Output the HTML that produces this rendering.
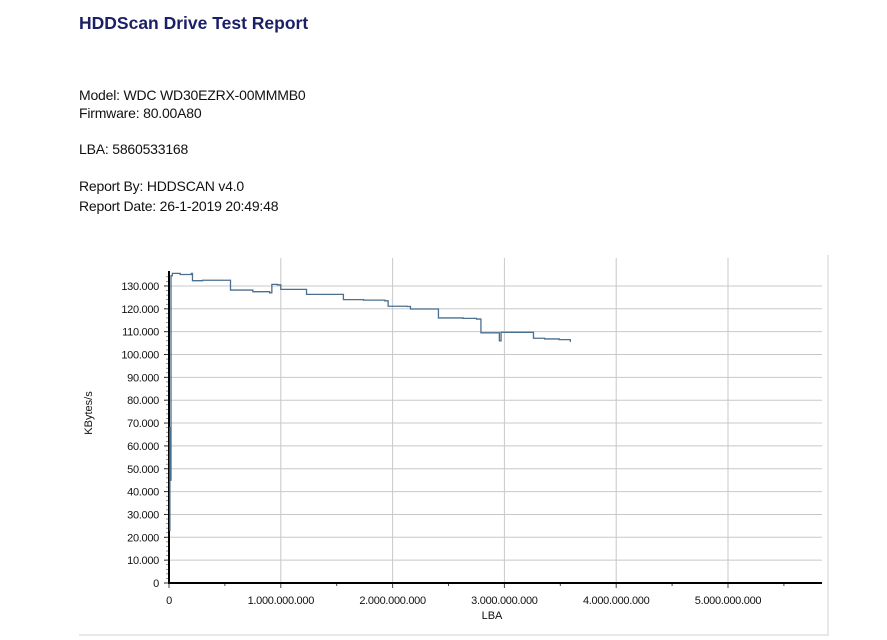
<!DOCTYPE html>
<html><head><meta charset="utf-8"><style>
body{margin:0;width:887px;height:640px;background:#fff;font-family:"Liberation Sans",sans-serif;position:relative;overflow:hidden}
.t{position:absolute;left:79px;font-size:14px;color:#111;white-space:nowrap;letter-spacing:-0.2px}
#title{position:absolute;left:79px;top:13px;font-size:17.5px;font-weight:bold;color:#1b1f66}
svg{position:absolute;left:0;top:0}
</style></head><body>
<div id="title">HDDScan Drive Test Report</div>
<div class="t" style="top:87px">Model: WDC WD30EZRX-00MMMB0</div>
<div class="t" style="top:105px">Firmware: 80.00A80</div>
<div class="t" style="top:141px">LBA: 5860533168</div>
<div class="t" style="top:178px">Report By: HDDSCAN v4.0</div>
<div class="t" style="top:198px">Report Date: 26-1-2019 20:49:48</div>
<svg id="chart" width="887" height="640"></svg>
<script>
const xTicks=[0,1e9,2e9,3e9,4e9,5e9];
const xTickLabels=["0","1.000.000.000","2.000.000.000","3.000.000.000","4.000.000.000","5.000.000.000"];
const yTicks=[0,10000,20000,30000,40000,50000,60000,70000,80000,90000,100000,110000,120000,130000];
const yTickLabels=["0","10.000","20.000","30.000","40.000","50.000","60.000","70.000","80.000","90.000","100.000","110.000","120.000","130.000"];
const lbaValues=[0.003e9,0.008e9,0.012e9,0.018e9,0.03e9,0.1e9,0.2e9,0.21e9,0.3e9,0.52e9,0.55e9,0.75e9,0.9e9,0.92e9,0.97e9,1.0e9,1.2e9,1.23e9,1.53e9,1.56e9,1.74e9,1.93e9,1.96e9,2.13e9,2.16e9,2.37e9,2.41e9,2.63e9,2.75e9,2.79e9,2.94e9,2.955e9,2.97e9,3.23e9,3.26e9,3.36e9,3.49e9,3.59e9];
const speedValues=[23000,68000,45000,134500,135500,135000,135500,132300,132500,132500,128200,127500,127000,130700,130500,128500,128500,126300,126300,124000,123800,123500,121100,121000,119900,119900,116000,115800,115500,109500,109500,106000,109700,109700,107100,106800,106500,105500];
const NS="http://www.w3.org/2000/svg";
const svg=document.getElementById('chart');
const X0=169,XPX=111.8e-9,Y0=583,YPX=22.85/10000,XR=822,YT=258;
const xs=v=>X0+v*XPX, ys=v=>Y0-v*YPX;
function mk(t,a){const e=document.createElementNS(NS,t);for(const k in a)e.setAttribute(k,a[k]);svg.appendChild(e);return e;}
let f=mk('path',{d:`M${XR+6},${YT-3}V${Y0+52}H${X0-90}`,fill:'none',stroke:'#d0d0d0'});


xTicks.forEach((v,i)=>{
 if(i>0){const g=mk('line',{x1:xs(v),x2:xs(v),y1:YT,y2:Y0,stroke:'#c8c8c8'});
 
 }
 const t=mk('text',{x:xs(v),y:Y0+21,'text-anchor':'middle','font-size':11,fill:'#111','letter-spacing':'-0.3'});t.textContent=xTickLabels[i];
 
 
});
for(let v=0;v<=5.8e9;v+=0.5e9){mk('line',{x1:xs(v),x2:xs(v),y1:Y0,y2:Y0+(v%1e9==0?5:3),stroke:'#444'});}
yTicks.forEach((v,i)=>{
 if(i>0){const g=mk('line',{x1:X0,x2:XR,y1:ys(v),y2:ys(v),stroke:'#c8c8c8'});
 
 }
 mk('line',{x1:X0-5,x2:X0,y1:ys(v),y2:ys(v),stroke:'#222'});
 const t=mk('text',{x:X0-10,y:ys(v)+4,'text-anchor':'end','font-size':11,fill:'#111','letter-spacing':'-0.3'});t.textContent=yTickLabels[i];
 
 
});
for(let v=0;v<=135000;v+=2000)mk('line',{x1:X0-3,x2:X0,y1:ys(v),y2:ys(v),stroke:'#555','stroke-width':0.6});
let ax=mk('line',{x1:X0,x2:X0,y1:271,y2:Y0+1,stroke:'#000','stroke-width':2});


ax=mk('line',{x1:X0-1,x2:XR,y1:Y0,y2:Y0,stroke:'#000','stroke-width':2});


let d='';
lbaValues.forEach((v,i)=>{const px=xs(v),py=ys(speedValues[i]);
 if(i==0)d+=`M${px},${py}`;else{d+=`H${px}V${py}`;}});
const ln=mk('path',{d:d,fill:'none',stroke:'#4a6f8f','stroke-width':1.3});


let tt=mk('text',{x:492,y:619,'text-anchor':'middle','font-size':11,fill:'#111'});tt.textContent='LBA';


tt=mk('text',{x:0,y:0,'text-anchor':'middle','font-size':11,fill:'#111',transform:'translate(92,413) rotate(-90)'});tt.textContent='KBytes/s';


</script>
</body></html>
